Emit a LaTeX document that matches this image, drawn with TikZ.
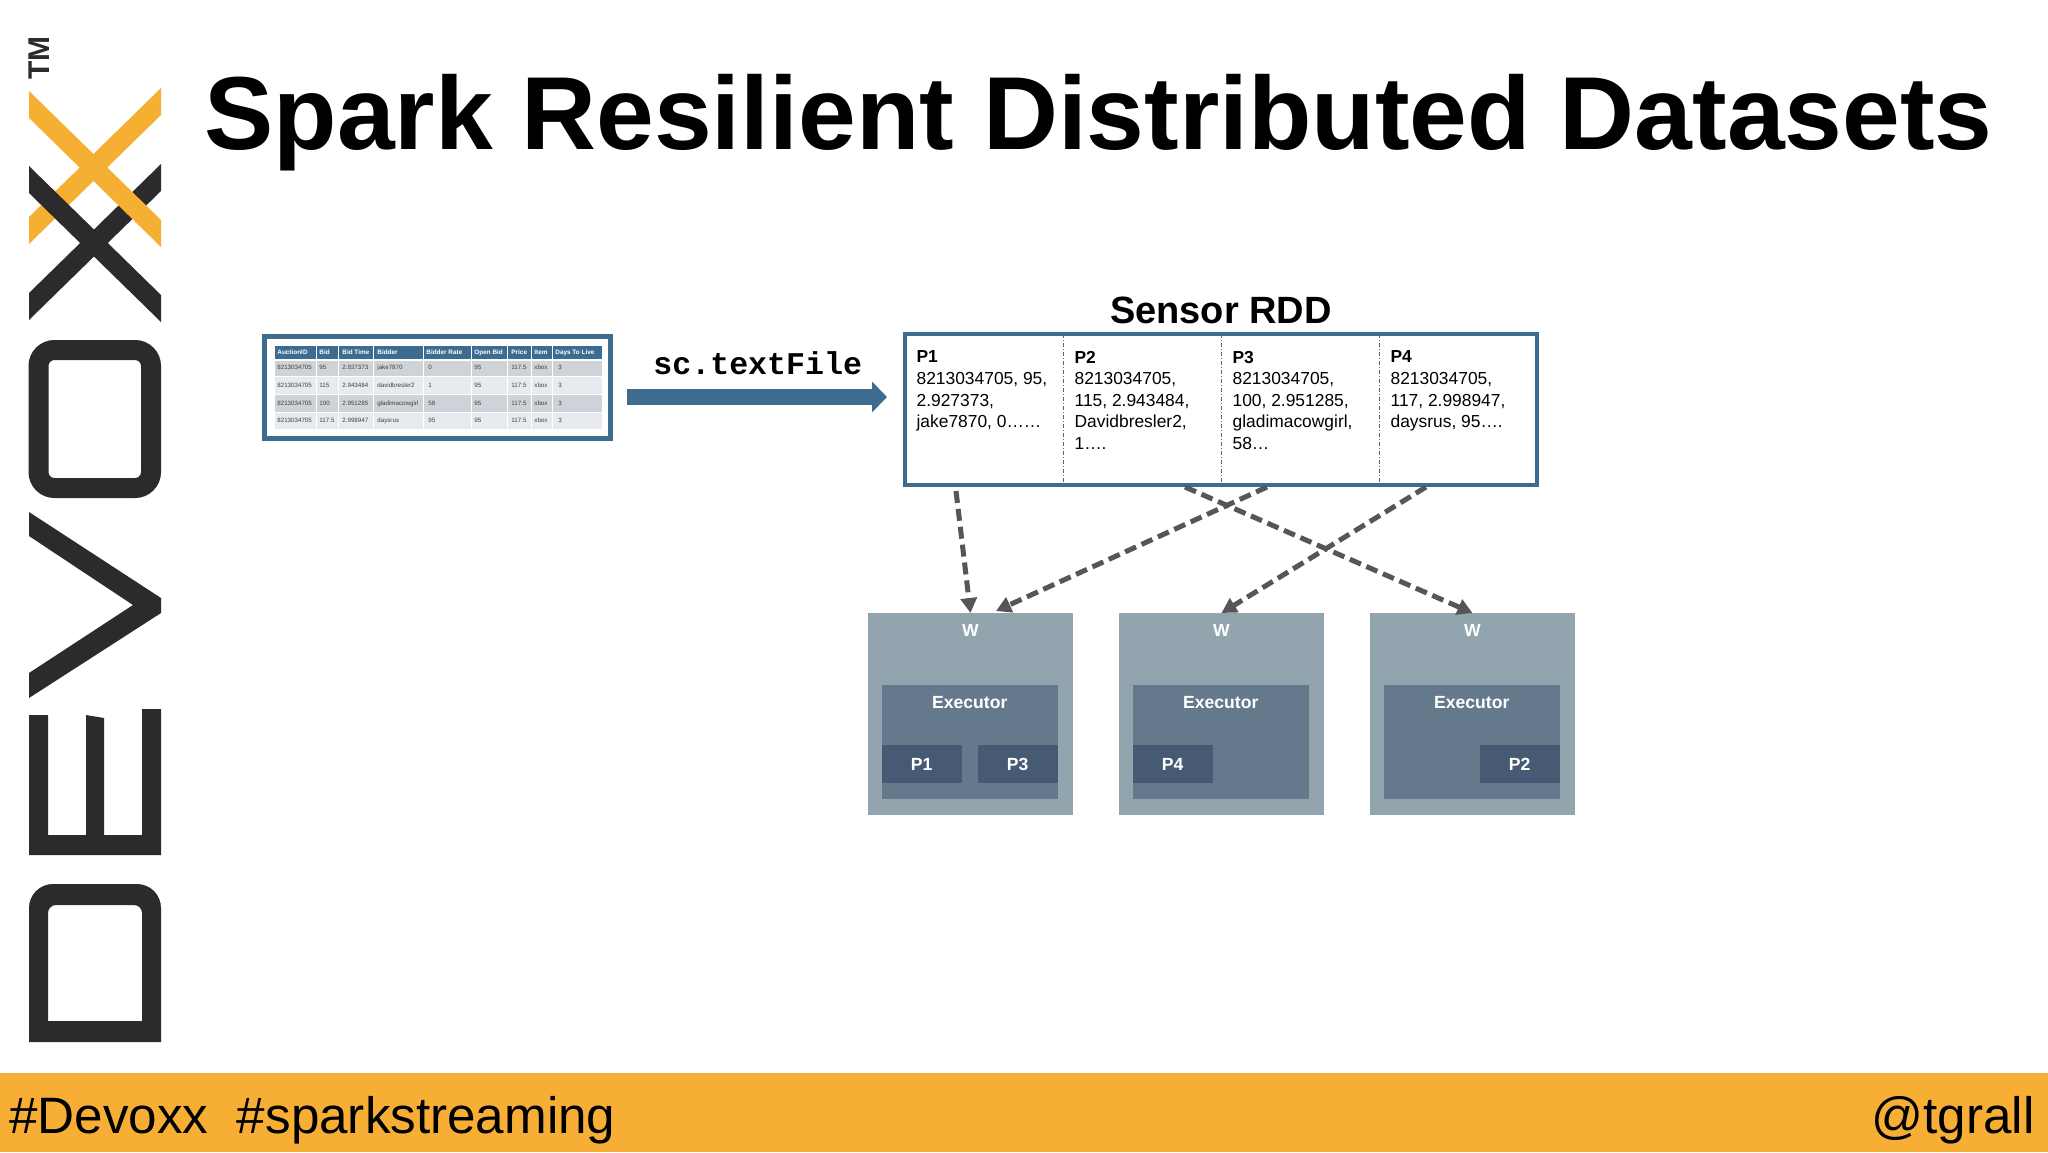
\documentclass[tikz,border=0pt]{standalone}
\usepackage{fontspec}
\setmainfont{Liberation Sans}
\setmonofont{Liberation Mono}
\usetikzlibrary{arrows.meta,positioning}
\definecolor{logodark}{HTML}{2C2A2B}
\definecolor{logoamber}{HTML}{F5AF33}
\definecolor{footbar}{HTML}{F7AE35}
\definecolor{frameblue}{HTML}{3E6C8F}
\definecolor{headblue}{HTML}{3D6C93}
\definecolor{rowdark}{HTML}{CDD3D8}
\definecolor{rowlight}{HTML}{E7EAEE}
\definecolor{workergrey}{HTML}{92A5AF}
\definecolor{execgrey}{HTML}{64798B}
\definecolor{slotblue}{HTML}{465A73}
\definecolor{dashgrey}{HTML}{565658}

\begin{document}
\begin{tikzpicture}[
    x=0.5pt, y=-0.5pt,
    worker/.style={fill=workergrey, minimum width=102.5pt, minimum height=101pt, inner sep=0pt, outer sep=0pt},
    executor/.style={fill=execgrey, minimum width=88pt, minimum height=57pt, inner sep=0pt, outer sep=0pt, xshift=-0.4pt},
    slot/.style={fill=slotblue, text=white, font=\fontsize{8.8}{10}\selectfont\bfseries, minimum width=40pt, minimum height=19pt, inner sep=0pt, outer sep=0pt},
    tag/.style={text=white, font=\fontsize{8.8}{10}\selectfont\bfseries, inner sep=0pt},
    frame/.style={draw=frameblue, line width=2.4pt, fill=white, inner sep=0pt, outer sep=0pt},
    part/.style={anchor=north west, align=left, inner xsep=5.6pt, inner ysep=0pt, font=\fontsize{8.7}{10.8}\selectfont},
    divider/.style={draw=frameblue, line width=0.5pt, dash pattern=on 2pt off 1pt on 0.5pt off 1pt},
    partarr/.style={draw=dashgrey, line width=2.5pt, dash pattern=on 6pt off 3pt, -{Triangle[length=7.5pt,width=8pt]}},
    loadarr/.style={draw=frameblue, line width=8pt, -{Triangle[length=7.5pt,width=15pt]}},
    rowbar/.style={minimum width=163.5pt, anchor=north west, inner sep=0pt, outer sep=0pt},
    cell/.style={anchor=west, inner sep=0pt, text height=2.4pt, text depth=0.7pt, text=black!75, font=\fontsize{3.1}{3.7}\selectfont},
    cellhead/.style={cell, text=white, font=\fontsize{3.2}{3.7}\selectfont\bfseries},
    logoink/.style={fill=logodark},
    logoglow/.style={fill=logoamber},
]
\useasboundingbox (0,0) rectangle (2048,1152);
\fill[white] (0,0) rectangle (2048,1152);

% Footer
\fill[footbar] (0,1073) rectangle (2048,1152);
\node[anchor=base west, inner sep=0pt, font=\fontsize{25.6}{30}\selectfont] (tags) at (9,1133) {\#Devoxx\ \ \#sparkstreaming};
\node[anchor=base east, inner sep=0pt, font=\fontsize{25.6}{30}\selectfont] (handle) at (2035,1133) {@tgrall};

% Logo
\node[rotate=90, inner sep=0pt, text=logodark, font=\fontsize{15}{18}\selectfont\bfseries] (tm) at (39.5,58) {TM};
\fill[logoink] (29,293) -- (161,164) -- (161,191) -- (29,320) -- cycle;
\fill[logoglow] (29,217) -- (161,88) -- (161,115) -- (29,244) -- cycle;
\fill[logoglow] (29,91) -- (161,220) -- (161,247) -- (29,118) -- cycle;
\fill[logoink] (29,166) -- (161,295) -- (161,322) -- (29,193) -- cycle;
\draw[draw=logodark, line width=10pt, rounded corners=8pt] (38.5,350) rectangle (151,488);
\fill[logoink] (29,512) -- (161,598) -- (161,613) -- (29,698) -- (29,673) -- (133,605) -- (29,536) -- cycle;
\fill[logoink] (29,715) -- (48,715) -- (48,835) -- (86,835) -- (86,715) -- (104,718) -- (104,835) -- (142,835) -- (142,709) -- (161,709) -- (161,855) -- (29,855) -- cycle;
\fill[logoink, even odd rule] (29,1042) [rounded corners=12pt] -- (29,884) -- (161,884) [sharp corners] -- (161,1042) -- cycle
    (48,1021) [rounded corners=4pt] -- (48,905) -- (142,905) [sharp corners] -- (142,1021) -- cycle;

% Title
\node[anchor=base west, inner sep=0pt, font=\fontsize{51.9}{60}\selectfont\bfseries] (title) at (204,149) {Spark Resilient Distributed Datasets};

% Source table
\node[frame, anchor=north west, minimum width=173pt, minimum height=51pt] (tbl) at (264.5,336.5) {};
\node[rowbar, fill=headblue, minimum height=6.5pt] (r0) at (275,346) {};
\node[rowbar, fill=rowdark, minimum height=7.5pt] (r1) at (275,361) {};
\node[rowbar, fill=rowlight, minimum height=8.5pt] (r2) at (275,377) {};
\node[rowbar, fill=rowdark, minimum height=8.5pt] (r3) at (275,395) {};
\node[rowbar, fill=rowlight, minimum height=8pt] (r4) at (275,413) {};
\foreach \colx in {316,338,373,423,471,507,531,552}
    \draw[white, line width=0.4pt] (\colx,346) -- (\colx,429);
\foreach \colx/\txt in {277/AuctionID,319/Bid,342/Bid Time,377/Bidder,426/Bidder Rate,474/Open Bid,511/Price,534/Item,555/Days To Live}
    \node[cellhead] (h\colx) at (\colx,353) {\txt};
\foreach \colx/\txt in {277/8213034705,319/95,342/2.927373,377/jake7870,428/0,474/95,511/117.5,534/xbox,558/3}
    \node[cell] (a\colx) at (\colx,368) {\txt};
\foreach \colx/\txt in {277/8213034705,319/115,342/2.943484,377/davidbresler2,428/1,474/95,511/117.5,534/xbox,558/3}
    \node[cell] (b\colx) at (\colx,386) {\txt};
\foreach \colx/\txt in {277/8213034705,319/100,342/2.951285,377/gladimacowgirl,428/58,474/95,511/117.5,534/xbox,558/3}
    \node[cell] (c\colx) at (\colx,404) {\txt};
\foreach \colx/\txt in {277/8213034705,319/117.5,342/2.998947,377/daysrus,428/95,474/95,511/117.5,534/xbox,558/3}
    \node[cell] (d\colx) at (\colx,421) {\txt};

% Load arrow
\coordinate (loadfrom) at (627,397);
\coordinate (loadto) at (887,397);
\draw[loadarr] (loadfrom) -- (loadto);
\node[anchor=base west, inner sep=0pt, font=\fontsize{15.8}{18}\selectfont\ttfamily\bfseries] (load) at (653,374) {sc.textFile};

% Sensor RDD
\node[frame, anchor=north west, minimum width=316pt, minimum height=75.5pt] (rdd) at (905,334) {};
\node[above=5pt of rdd.north, inner sep=0pt, font=\fontsize{19}{22}\selectfont\bfseries] (rddname) {Sensor RDD};
\node[part] (p1) at (905,350.5) {\textbf{P1}\\8213034705, 95,\\2.927373,\\jake7870, 0……};
\node[part] (p2) at (1063,350.5) {\textbf{P2}\\8213034705,\\115, 2.943484,\\Davidbresler2,\\1….};
\node[part] (p3) at (1221,350.5) {\textbf{P3}\\8213034705,\\100, 2.951285,\\gladimacowgirl,\\58…};
\node[part] (p4) at (1379,350.5) {\textbf{P4}\\8213034705,\\117, 2.998947,\\daysrus, 95….};
\draw[divider] (p2.north west |- rdd.north) -- (p2.north west |- rdd.south);
\draw[divider] (p3.north west |- rdd.north) -- (p3.north west |- rdd.south);
\draw[divider] (p4.north west |- rdd.north) -- (p4.north west |- rdd.south);

% Workers
\node[worker, anchor=north west] (w1) at (868,613) {};
\node[worker, right=23pt of w1] (w2) {};
\node[worker, right=23pt of w2] (w3) {};
\node[tag, below=5.3pt of w1.north] (w1name) {W};
\node[tag, below=5.3pt of w2.north] (w2name) {W};
\node[tag, below=5.3pt of w3.north] (w3name) {W};
\node[executor, above=8pt of w1.south] (e1) {};
\node[executor, above=8pt of w2.south] (e2) {};
\node[executor, above=8pt of w3.south] (e3) {};
\node[tag, below=5.3pt of e1.north] (e1name) {Executor};
\node[tag, below=5.3pt of e2.north] (e2name) {Executor};
\node[tag, below=5.3pt of e3.north] (e3name) {Executor};
\node[slot, above right=8pt and 0pt of e1.south west] (s1) {P1};
\node[slot, above left=8pt and 0pt of e1.south east] (s3) {P3};
\node[slot, above right=8pt and 0pt of e2.south west] (s4) {P4};
\node[slot, above left=8pt and 0pt of e3.south east] (s2) {P2};

% Arrows
\coordinate (p1out) at (956,491);
\coordinate (p2out) at (1185,487);
\coordinate (p3out) at (1267,487);
\coordinate (p4out) at (1426,487);
\coordinate (w1side) at (996,611);
\draw[partarr] (p1out) -- (w1.north);
\draw[partarr] (p3out) -- (w1side);
\draw[partarr] (p4out) -- (w2.north);
\draw[partarr] (p2out) -- (w3.north);
\end{tikzpicture}
\end{document}
